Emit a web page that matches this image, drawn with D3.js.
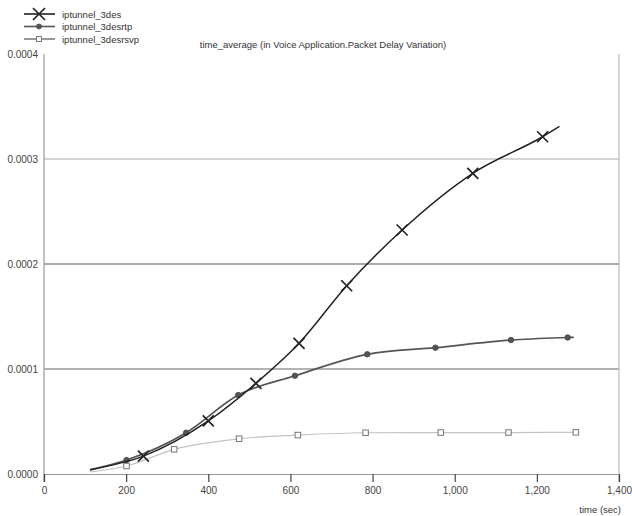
<!DOCTYPE html>
<html>
<head>
<meta charset="utf-8">
<script src="https://cdn.jsdelivr.net/npm/d3@7"></script>
<style>
  html, body { margin: 0; padding: 0; background: #fff; }
  svg { display: block; font-family: "Liberation Sans", Arial, sans-serif; }
</style>
</head>
<body>
<svg id="chart" width="632" height="516"></svg>
<script>
// Packet delay variation (time average) for three IP tunnel configurations
const seriesNames = ["iptunnel_3des", "iptunnel_3desrtp", "iptunnel_3desrsvp"];

const desTime   = [112, 242, 400, 516, 621, 737, 872, 1044, 1214, 1255];
const desValue  = [0.000004, 0.0000170, 0.0000505, 0.0000864, 0.0001245, 0.0001793, 0.0002324, 0.0002864, 0.0003212, 0.000331];

const rtpTime   = [112, 201, 346, 473, 611, 787, 953, 1137, 1275, 1290];
const rtpValue  = [0.000004, 0.0000133, 0.0000393, 0.0000752, 0.0000936, 0.000114, 0.0001203, 0.0001276, 0.00013, 0.0001302];

const rsvpTime  = [112, 201, 317, 475, 618, 783, 966, 1131, 1295];
const rsvpValue = [0.000002, 0.0000076, 0.0000235, 0.0000336, 0.0000371, 0.0000393, 0.0000395, 0.0000395, 0.0000397];

// which samples carry a marker (first/last are curve ends only)
const desMarkers  = [1, 2, 3, 4, 5, 6, 7, 8];
const rtpMarkers  = [1, 2, 3, 4, 5, 6, 7, 8];
const rsvpMarkers = [1, 2, 3, 4, 5, 6, 7, 8];

const xTicks = [0, 200, 400, 600, 800, 1000, 1200, 1400];
const yTicks = [0, 0.0001, 0.0002, 0.0003, 0.0004];

const titleText = "time_average (in Voice Application.Packet Delay Variation)";
const xLabel = "time (sec)";

const svg = d3.select("#chart");
const plotLeft = 44, plotRight = 619, plotTop = 54, plotBottom = 474;

const x = d3.scaleLinear().domain([0, 1400]).range([plotLeft, plotRight]);
const y = d3.scaleLinear().domain([0, 0.0004]).range([plotBottom, plotTop]);

// horizontal grid lines
const gridColor = {0.0001: "#666", 0.0002: "#555", 0.0003: "#aaa"};
svg.append("g").selectAll("line")
  .data(yTicks.filter(d => d > 0 && d < 0.0004))
  .join("line")
  .attr("x1", plotLeft).attr("x2", plotRight)
  .attr("y1", d => y(d)).attr("y2", d => y(d))
  .attr("stroke", d => gridColor[d]).attr("stroke-width", 1.2);

// frame: left axis, bottom axis, right edge
svg.append("line").attr("x1", plotLeft).attr("x2", plotLeft).attr("y1", plotTop).attr("y2", plotBottom + 8)
  .attr("stroke", "#999").attr("stroke-width", 1.2);
svg.append("line").attr("x1", plotRight).attr("x2", plotRight).attr("y1", plotTop).attr("y2", plotBottom + 8)
  .attr("stroke", "#bbb").attr("stroke-width", 1.2);

const xAxis = d3.axisBottom(x).tickValues(xTicks).tickSize(8).tickPadding(5)
  .tickFormat(d3.format(",d"));
const gx = svg.append("g").attr("transform", `translate(0,${plotBottom})`).call(xAxis);
gx.select(".domain").attr("stroke", "#999").attr("stroke-width", 1.2);
gx.selectAll(".tick line").attr("stroke", "#444").attr("stroke-width", 1.2);
gx.selectAll(".tick text").attr("fill", "#444").attr("font-size", 10)
  .attr("font-family", "Liberation Sans, Arial, sans-serif");

const yAxis = d3.axisLeft(y).tickValues(yTicks).tickSize(0).tickPadding(6)
  .tickFormat(d3.format(".4f"));
const gy = svg.append("g").attr("transform", `translate(${plotLeft},0)`).call(yAxis);
gy.select(".domain").remove();
gy.selectAll(".tick text").attr("fill", "#444").attr("font-size", 10)
  .attr("font-family", "Liberation Sans, Arial, sans-serif");

// titles
svg.append("text").attr("x", 323).attr("y", 48).attr("text-anchor", "middle")
  .attr("font-size", 9.5).attr("fill", "#333").text(titleText);
svg.append("text").attr("x", 621).attr("y", 513).attr("text-anchor", "end")
  .attr("font-size", 9.5).attr("fill", "#333").text(xLabel);

const line = d3.line().x(d => x(d[0])).y(d => y(d[1])).curve(d3.curveMonotoneX);
const zip = (t, v) => t.map((d, i) => [d, v[i]]);

const series = [
  {name: seriesNames[2], pts: zip(rsvpTime, rsvpValue), marks: rsvpMarkers, color: "#c4c4c4", width: 1.2, marker: "square"},
  {name: seriesNames[1], pts: zip(rtpTime, rtpValue),   marks: rtpMarkers,  color: "#555",    width: 1.7, marker: "dot"},
  {name: seriesNames[0], pts: zip(desTime, desValue),   marks: desMarkers,  color: "#222",    width: 1.5, marker: "cross"}
];

function drawMarker(g, type, cx, cy, size) {
  if (type === "cross") {
    const s = size;
    g.append("path").attr("d", `M${cx - s},${cy - s}L${cx + s},${cy + s}M${cx - s},${cy + s}L${cx + s},${cy - s}`)
      .attr("stroke", "#222").attr("stroke-width", 1.7).attr("fill", "none");
  } else if (type === "dot") {
    g.append("circle").attr("cx", cx).attr("cy", cy).attr("r", size * 0.55)
      .attr("fill", "#555").attr("stroke", "#444").attr("stroke-width", 0.8);
  } else {
    g.append("rect").attr("x", cx - size * 0.55).attr("y", cy - size * 0.55)
      .attr("width", size * 1.1).attr("height", size * 1.1)
      .attr("fill", "#fff").attr("stroke", "#777").attr("stroke-width", 1);
  }
}

series.forEach(s => {
  const g = svg.append("g");
  g.append("path").datum(s.pts).attr("d", line)
    .attr("fill", "none").attr("stroke", s.color).attr("stroke-width", s.width);
  s.marks.forEach(i => drawMarker(g, s.marker, x(s.pts[i][0]), y(s.pts[i][1]), s.marker === "cross" ? 5.5 : 5));
});

// legend
const legendRows = [
  {name: seriesNames[0], marker: "cross", color: "#222", width: 1.6},
  {name: seriesNames[1], marker: "dot",   color: "#555", width: 1.6},
  {name: seriesNames[2], marker: "square", color: "#555", width: 1.2}
];
legendRows.forEach((r, i) => {
  const ly = 14 + i * 12.5;
  const g = svg.append("g");
  g.append("line").attr("x1", 24).attr("x2", 55).attr("y1", ly).attr("y2", ly)
    .attr("stroke", r.color).attr("stroke-width", r.width);
  drawMarker(g, r.marker, 39, ly, r.marker === "cross" ? 6 : 4.5);
  g.append("text").attr("x", 62).attr("y", ly + 3.5).attr("font-size", 9.5)
    .attr("fill", "#333").text(r.name);
});
</script>
</body>
</html>
